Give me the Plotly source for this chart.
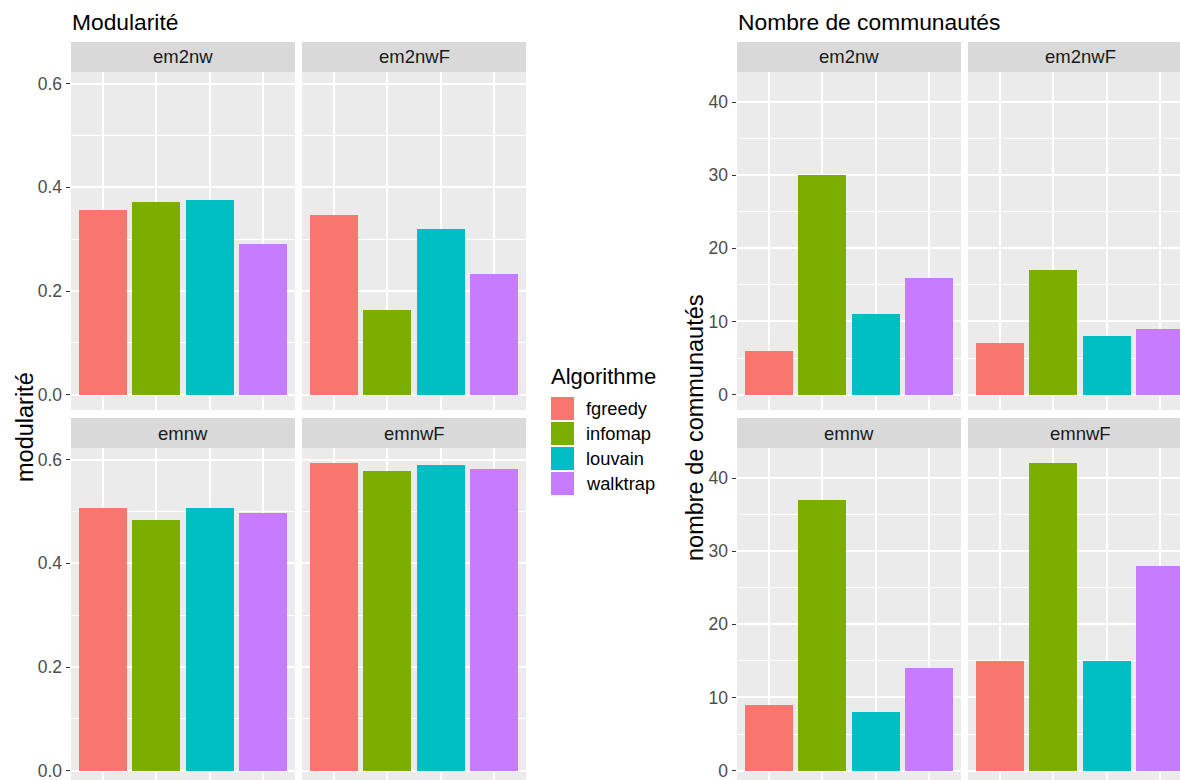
import plotly.graph_objects as go

W, H = 1180, 780

algorithms = ["fgreedy", "infomap", "louvain", "walktrap"]
colors = ["#F8766D", "#7CAE00", "#00BFC4", "#C77CFF"]
datasets = ["em2nw", "em2nwF", "emnw", "emnwF"]

modularite_em2nw = [0.357, 0.372, 0.376, 0.291]
modularite_em2nwF = [0.347, 0.164, 0.320, 0.233]
modularite_emnw = [0.507, 0.484, 0.507, 0.498]
modularite_emnwF = [0.593, 0.579, 0.590, 0.583]

communautes_em2nw = [6, 30, 11, 16]
communautes_em2nwF = [7, 17, 8, 9]
communautes_emnw = [9, 37, 8, 14]
communautes_emnwF = [15, 42, 15, 28]

mod_ticks = [0.0, 0.2, 0.4, 0.6]
com_ticks = [0, 10, 20, 30, 40]

FONT = "Liberation Sans, Arial, sans-serif"

def px_x(p):
    return p / W

def px_y(p):
    return 1 - p / H

fig = go.Figure()

panels = [
    dict(x0=71, x1=295, y0=72, y1=410, vals=modularite_em2nw, name=datasets[0], chart="mod", left=True),
    dict(x0=302, x1=526, y0=72, y1=410, vals=modularite_em2nwF, name=datasets[1], chart="mod", left=False),
    dict(x0=71, x1=295, y0=448, y1=786, vals=modularite_emnw, name=datasets[2], chart="mod", left=True),
    dict(x0=302, x1=526, y0=448, y1=786, vals=modularite_emnwF, name=datasets[3], chart="mod", left=False),
    dict(x0=737, x1=961, y0=72, y1=410, vals=communautes_em2nw, name=datasets[0], chart="com", left=True),
    dict(x0=968, x1=1192, y0=72, y1=410, vals=communautes_em2nwF, name=datasets[1], chart="com", left=False),
    dict(x0=737, x1=961, y0=448, y1=786, vals=communautes_emnw, name=datasets[2], chart="com", left=True),
    dict(x0=968, x1=1192, y0=448, y1=786, vals=communautes_emnwF, name=datasets[3], chart="com", left=False),
]

shapes = []
annotations = []

for i, p in enumerate(panels, start=1):
    xa = "x" if i == 1 else f"x{i}"
    ya = "y" if i == 1 else f"y{i}"
    if p["chart"] == "mod":
        vmax = max(modularite_em2nw + modularite_em2nwF + modularite_emnw + modularite_emnwF)
        tickvals = mod_ticks
        fmt = ".1f"
        minor_d = 0.1
    else:
        vmax = max(communautes_em2nw + communautes_em2nwF + communautes_emnw + communautes_emnwF)
        tickvals = com_ticks
        fmt = "d"
        minor_d = 5
    ylo, yhi = -0.05 * vmax, vmax * 1.05
    xlo, xhi = -0.6, 3.6
    x1 = min(p["x1"], W)
    y1 = min(p["y1"], H)
    xhi_t = xlo + (xhi - xlo) * (x1 - p["x0"]) / (p["x1"] - p["x0"])
    ylo_t = ylo + (yhi - ylo) * (p["y1"] - y1) / (p["y1"] - p["y0"])

    fig.add_trace(go.Bar(
        x=list(range(len(algorithms))), y=p["vals"], width=0.9,
        marker=dict(color=colors, line=dict(width=0)),
        xaxis=xa, yaxis=ya, showlegend=False,
        hovertext=algorithms, hoverinfo="text+y",
    ))

    fig.layout[("xaxis" if i == 1 else f"xaxis{i}")] = dict(
        domain=[px_x(p["x0"]), px_x(x1)], range=[xlo, xhi_t],
        anchor=ya, showgrid=True, gridcolor="white", gridwidth=1.5,
        tickvals=list(range(len(algorithms))), showticklabels=False, ticks="",
        zeroline=False, showline=False, fixedrange=True,
    )
    fig.layout[("yaxis" if i == 1 else f"yaxis{i}")] = dict(
        domain=[px_y(y1), px_y(p["y0"])], range=[ylo_t, yhi],
        anchor=xa, showgrid=True, gridcolor="white", gridwidth=1.5,
        tickvals=tickvals, tickformat=fmt,
        showticklabels=p["left"], ticks="outside" if p["left"] else "",
        ticklen=4.5, tickwidth=1, tickcolor="#333333",
        tickfont=dict(family=FONT, size=17.5, color="#4D4D4D"),
        ticklabeloverflow="allow",
        minor=dict(dtick=minor_d, tick0=0, showgrid=True, gridcolor="white", gridwidth=0.7, ticks=""),
        zeroline=False, showline=False, fixedrange=True,
    )
    shapes.append(dict(type="rect", xref="paper", yref="paper",
                       x0=px_x(p["x0"]), x1=px_x(x1), y0=px_y(y1), y1=px_y(p["y0"]),
                       fillcolor="#EBEBEB", line=dict(width=0), layer="below"))
    shapes.append(dict(type="rect", xref="paper", yref="paper",
                       x0=px_x(p["x0"]), x1=px_x(x1), y0=px_y(p["y0"]), y1=px_y(p["y0"] - 30),
                       fillcolor="#D9D9D9", line=dict(width=0), layer="below"))
    annotations.append(dict(xref="paper", yref="paper",
                            x=px_x((p["x0"] + p["x1"]) / 2), y=px_y(p["y0"] - 15),
                            text=p["name"], showarrow=False, xanchor="center", yanchor="middle",
                            font=dict(family=FONT, size=18.5, color="#1A1A1A")))

annotations.append(dict(xref="paper", yref="paper", x=px_x(69.5), y=px_y(22), text="Modularité",
                        showarrow=False, xanchor="left", yanchor="middle",
                        font=dict(family=FONT, size=22.8, color="black")))
annotations.append(dict(xref="paper", yref="paper", x=px_x(735.5), y=px_y(22), text="Nombre de communautés",
                        showarrow=False, xanchor="left", yanchor="middle",
                        font=dict(family=FONT, size=22.8, color="black")))
annotations.append(dict(xref="paper", yref="paper", x=px_x(25), y=px_y(427), text="modularité",
                        showarrow=False, textangle=-90, xanchor="center", yanchor="middle",
                        font=dict(family=FONT, size=23.5, color="black")))
annotations.append(dict(xref="paper", yref="paper", x=px_x(695), y=px_y(428), text="nombre de communautés",
                        showarrow=False, textangle=-90, xanchor="center", yanchor="middle",
                        font=dict(family=FONT, size=23.5, color="black")))

annotations.append(dict(xref="paper", yref="paper", x=px_x(549), y=px_y(376), text="Algorithme",
                        showarrow=False, xanchor="left", yanchor="middle",
                        font=dict(family=FONT, size=22, color="black")))
for k, (alg, col) in enumerate(zip(algorithms, colors)):
    top = 397 + k * 25
    shapes.append(dict(type="rect", xref="paper", yref="paper",
                       x0=px_x(551), x1=px_x(574), y0=px_y(top + 23), y1=px_y(top),
                       fillcolor=col, line=dict(width=0)))
    annotations.append(dict(xref="paper", yref="paper", x=px_x(584), y=px_y(top + 11.5), text=alg,
                            showarrow=False, xanchor="left", yanchor="middle",
                            font=dict(family=FONT, size=18.3, color="black")))

fig.update_layout(
    width=W, height=H, margin=dict(l=0, r=0, t=0, b=0),
    paper_bgcolor="white", plot_bgcolor="rgba(0,0,0,0)",
    shapes=shapes, annotations=annotations, showlegend=False,
    font=dict(family=FONT), bargap=0,
)

fig.write_html("out.html", config={"displayModeBar": False},
               post_script="document.body.style.margin='0';document.body.style.padding='0';")
